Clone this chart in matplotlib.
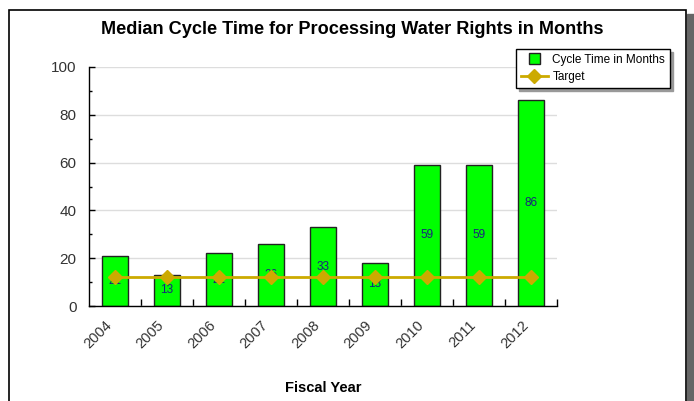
import matplotlib
matplotlib.use("Agg")
import matplotlib.pyplot as plt
from matplotlib.patches import Rectangle
from matplotlib.legend_handler import HandlerPatch
import matplotlib.transforms as mtransforms
import numpy as np

plt.rcParams['font.family'] = ['Liberation Sans', 'DejaVu Sans']

years = ['2004', '2005', '2006', '2007', '2008', '2009', '2010', '2011', '2012']
cycle_time = [21, 13, 22, 26, 33, 18, 59, 59, 86]
target = [12, 12, 12, 12, 12, 12, 12, 12, 12]

fig = plt.figure(figsize=(6.94, 4.01), dpi=100)

# outer frame with grey shadow on the right
fig.patches.append(Rectangle((687 / 694, 0), 7 / 694, (401 - 14) / 401,
                             transform=fig.transFigure, color='#666666', zorder=-3))
fig.patches.append(Rectangle((9 / 694, -0.05), (686 - 9) / 694, 1.05 - 9.5 / 401,
                             transform=fig.transFigure, facecolor='white',
                             edgecolor='black', linewidth=1.2, zorder=-2))

ax = fig.add_axes([89 / 694, 95 / 401, 468 / 694, 239 / 401])
ax.set_facecolor('none')
x = np.arange(len(years))

bars = ax.bar(x, cycle_time, width=0.5, color='#00ff00', edgecolor='#222222',
              linewidth=1.0, zorder=2, label='Cycle Time in Months')
line, = ax.plot(x, target, color='#ccaa00', linewidth=2, marker='D', markersize=7,
                zorder=3, label='Target')

for xi, v in zip(x, cycle_time):
    ax.text(xi, v / 2, str(v), ha='center', va='center', fontsize=8.5,
            color='#1a237e', zorder=2.5)

ax.set_xlim(-0.5, 8.5)
ax.set_ylim(0, 100)
ax.set_yticks([0, 20, 40, 60, 80, 100])
ax.set_yticks(np.arange(10, 100, 20), minor=True)
ax.set_xticks(x)
ax.set_xticklabels(years, rotation=45, ha='right', va='center',
                   rotation_mode='anchor')
ax.set_xticks(np.arange(0.5, 9, 1), minor=True)

ax.tick_params(axis='x', which='major', length=0, pad=12.5, labelsize=10.5,
               labelcolor='#333333')
ax.tick_params(axis='x', which='minor', direction='in', length=5, width=1)
ax.tick_params(axis='y', which='major', direction='in', length=4, width=1,
               pad=9, labelsize=11, labelcolor='#333333')
ax.tick_params(axis='y', which='minor', direction='in', length=2.5, width=1)

# nudge rotated year labels to the left, as in the original
shift = mtransforms.ScaledTranslation(-5 / 100, 0, fig.dpi_scale_trans)
for lab in ax.get_xticklabels():
    lab.set_transform(lab.get_transform() + shift)

ax.grid(axis='y', which='major', color='#dddddd', linewidth=1, zorder=0)
ax.set_axisbelow(True)
for s in ['top', 'right']:
    ax.spines[s].set_visible(False)
for s in ['left', 'bottom']:
    ax.spines[s].set_color('black')
    ax.spines[s].set_linewidth(1.0)


def square_patch(legend, orig_handle, xdescent, ydescent, width, height, fontsize):
    side = 8.0
    return Rectangle((width / 2 - side / 2 - xdescent, height / 2 - side / 2 - ydescent),
                     side, side)


leg = ax.legend([bars.patches[0], line], ['Cycle Time in Months', 'Target'],
                loc='upper left', bbox_to_anchor=(0.912, 1.075),
                fancybox=False, shadow={'color': '#999999', 'alpha': 1},
                edgecolor='black', fontsize=8.5, framealpha=1,
                handlelength=2.3, borderpad=0.4, labelspacing=0.45,
                handletextpad=0.4, borderaxespad=0,
                handler_map={Rectangle: HandlerPatch(patch_func=square_patch)})
leg.get_frame().set_linewidth(1.0)

fig.text(0.507, 371 / 401, 'Median Cycle Time for Processing Water Rights in Months',
         ha='center', va='center', fontsize=13.1, fontweight='bold')
fig.text(323 / 694, 13 / 401, 'Fiscal Year', ha='center', va='center',
         fontsize=10.5, fontweight='bold')

fig.savefig('out.png', dpi=100)
